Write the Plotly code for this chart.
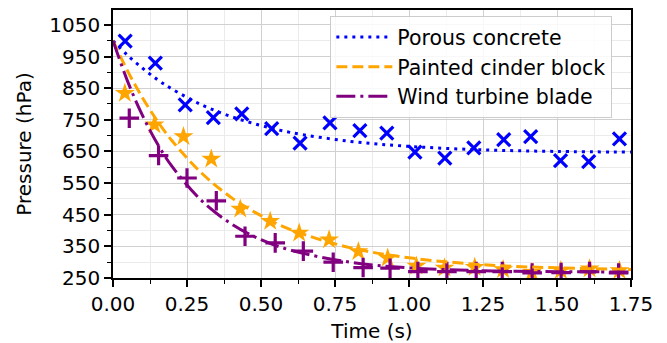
import plotly.graph_objects as go

# ---- data ----
t_porous = [0.041, 0.143, 0.244, 0.339, 0.435, 0.536, 0.632, 0.733, 0.834, 0.925,
            1.020, 1.121, 1.219, 1.320, 1.411, 1.512, 1.607, 1.711]
p_porous = [999, 929, 797, 757, 769, 722, 676, 740, 716, 708,
            648, 629, 661, 687, 697, 621, 618, 690]

t_cinder = [0.040, 0.140, 0.238, 0.332, 0.430, 0.531, 0.629, 0.730, 0.829, 0.928,
            1.025, 1.120, 1.222, 1.318, 1.415, 1.513, 1.610, 1.711]
p_cinder = [834, 734, 697, 626, 468, 429, 392, 371, 334, 313,
            288, 282, 284, 277, 268, 274, 279, 274]

t_blade = [0.055, 0.154, 0.250, 0.349, 0.446, 0.548, 0.643, 0.744, 0.845, 0.936,
           1.030, 1.128, 1.227, 1.315, 1.416, 1.514, 1.610, 1.708]
p_blade = [755, 637, 566, 494, 382, 361, 335, 300, 283, 281,
           270, 270, 270, 270, 266, 267, 270, 266]

# fitted curves
t_fit = [0, 0.05, 0.1, 0.15, 0.2, 0.3, 0.4, 0.5, 0.6, 0.8, 1.0, 1.25, 1.5, 1.75]
fit_porous = [1000, 953, 913, 877, 847, 797, 760, 732, 710, 682, 666, 655, 650, 648]
fit_cinder = [1000, 903, 819, 746, 683, 581, 504, 447, 403, 346, 314, 292, 282, 277]
fit_blade = [1000, 870, 763, 674, 602, 494, 421, 371, 338, 300, 282, 273, 270, 269]

names = ["Porous concrete", "Painted cinder block", "Wind turbine blade"]
colors = ["#0000ff", "#ffa500", "#800080"]

x_ticks = [0.0, 0.25, 0.5, 0.75, 1.0, 1.25, 1.5, 1.75]
y_ticks = [250, 350, 450, 550, 650, 750, 850, 950, 1050]

FONT = "DejaVu Sans"
fig = go.Figure()

markers = [
    (t_porous, p_porous, dict(symbol="x-thin", size=13, line=dict(width=3.2, color=colors[0]), color=colors[0])),
    (t_cinder, p_cinder, dict(symbol="star", size=15, color=colors[1], line=dict(width=0))),
    (t_blade, p_blade, dict(symbol="cross-thin", size=14, line=dict(width=3.2, color=colors[2]), color=colors[2])),
]
for x, y, m in markers:
    fig.add_trace(go.Scatter(x=x, y=y, mode="markers", marker=m, showlegend=False, hoverinfo="skip"))

dashes = ["3px,5px", "11px,5px", "19px,5px,3px,5px"]
for y, name, c, d in zip([fit_porous, fit_cinder, fit_blade], names, colors, dashes):
    fig.add_trace(go.Scatter(x=t_fit, y=y, mode="lines", name=name,
                             line=dict(color=c, width=3, dash=d, shape="spline", smoothing=1.0)))

axis_common = dict(
    showline=True, linecolor="black", linewidth=1.5, mirror=True,
    ticks="outside", ticklen=7, tickwidth=1.5, tickcolor="black",
    showgrid=True, gridcolor="#d0d0d0", gridwidth=1.3,
    zeroline=False, automargin=False,
    tickfont=dict(family=FONT, size=20, color="black"),
)

fig.update_xaxes(
    range=[0, 1.75], tickvals=x_ticks, ticktext=[f"{v:.2f}" for v in x_ticks],
    title=dict(text="Time (s)", font=dict(family=FONT, size=20, color="black"), standoff=9),
    minor=dict(dtick=0.125, tick0=0, ticklen=4, tickwidth=1, tickcolor="black",
               showgrid=True, gridcolor="#ebebeb", gridwidth=1),
    **axis_common,
)
fig.update_yaxes(
    range=[250, 1097], tickvals=y_ticks,
    title=dict(text="Pressure (hPa)", font=dict(family=FONT, size=20, color="black"), standoff=12),
    minor=dict(dtick=50, tick0=250, ticklen=4, tickwidth=1, tickcolor="black",
               showgrid=True, gridcolor="#ebebeb", gridwidth=1),
    **axis_common,
)

fig.update_layout(
    width=667, height=343,
    margin=dict(l=113, r=36, t=10, b=65),
    paper_bgcolor="white", plot_bgcolor="white",
    font=dict(family=FONT, size=20, color="black"),
    legend=dict(x=0.419, y=0.978, xanchor="left", yanchor="top",
                bgcolor="rgba(255,255,255,0.85)", bordercolor="#cccccc", borderwidth=1.3,
                font=dict(family=FONT, size=20.5, color="black"),
                tracegroupgap=0, itemwidth=56),
)

fig.write_html("out.html")
